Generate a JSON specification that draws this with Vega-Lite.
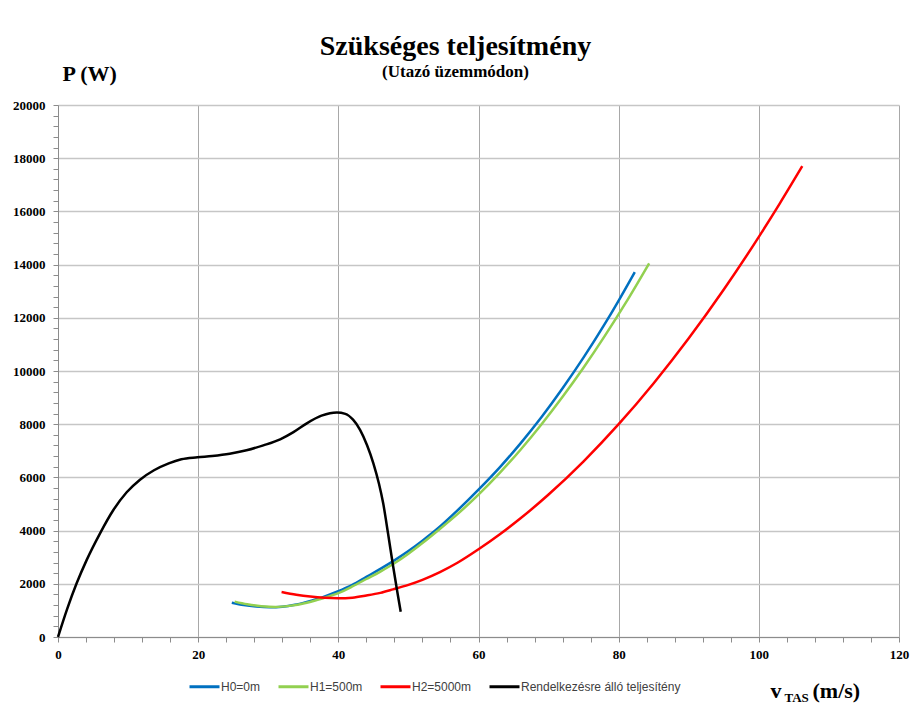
{
  "$schema": "https://vega.github.io/schema/vega-lite/v6.json",
  "width": 841,
  "height": 532,
  "autosize": {"type": "none"},
  "padding": {"left": 58, "top": 105, "right": 11, "bottom": 71},
  "background": "white",
  "config": {"view": {"stroke": null}, "font": "Liberation Serif"},
  "title": {
    "text": "Szükséges teljesítmény",
    "subtitle": "(Utazó üzemmódon)",
    "anchor": "middle",
    "frame": "group",
    "dx": -23,
    "dy": 18,
    "font": "Liberation Serif",
    "fontSize": 28,
    "fontWeight": "bold",
    "color": "black",
    "subtitleFont": "Liberation Serif",
    "subtitleFontSize": 17,
    "subtitleFontWeight": "bold",
    "subtitleColor": "black",
    "subtitlePadding": 3,
    "offset": 0
  },
  "data": {
    "values": [
      {"s": "H0=0m", "v": 24.8, "P": 1290},
      {"s": "H0=0m", "v": 26.5, "P": 1200},
      {"s": "H0=0m", "v": 28.3, "P": 1145},
      {"s": "H0=0m", "v": 30.2, "P": 1120},
      {"s": "H0=0m", "v": 32, "P": 1140},
      {"s": "H0=0m", "v": 33.8, "P": 1210},
      {"s": "H0=0m", "v": 35.5, "P": 1320},
      {"s": "H0=0m", "v": 37.7, "P": 1490},
      {"s": "H0=0m", "v": 39.8, "P": 1700},
      {"s": "H0=0m", "v": 42, "P": 1960},
      {"s": "H0=0m", "v": 44, "P": 2260},
      {"s": "H0=0m", "v": 46, "P": 2560},
      {"s": "H0=0m", "v": 48, "P": 2880},
      {"s": "H0=0m", "v": 50, "P": 3230},
      {"s": "H0=0m", "v": 52, "P": 3620},
      {"s": "H0=0m", "v": 54, "P": 4040},
      {"s": "H0=0m", "v": 57, "P": 4760},
      {"s": "H0=0m", "v": 60, "P": 5540},
      {"s": "H0=0m", "v": 63, "P": 6370},
      {"s": "H0=0m", "v": 66, "P": 7280},
      {"s": "H0=0m", "v": 69, "P": 8270},
      {"s": "H0=0m", "v": 72, "P": 9350},
      {"s": "H0=0m", "v": 75, "P": 10510},
      {"s": "H0=0m", "v": 78, "P": 11760},
      {"s": "H0=0m", "v": 80, "P": 12650},
      {"s": "H0=0m", "v": 82.3, "P": 13720},
      {"s": "H1=500m", "v": 25.2, "P": 1330},
      {"s": "H1=500m", "v": 27, "P": 1230},
      {"s": "H1=500m", "v": 29, "P": 1160},
      {"s": "H1=500m", "v": 31, "P": 1130},
      {"s": "H1=500m", "v": 33, "P": 1170},
      {"s": "H1=500m", "v": 35.5, "P": 1290},
      {"s": "H1=500m", "v": 37.7, "P": 1450},
      {"s": "H1=500m", "v": 40, "P": 1650},
      {"s": "H1=500m", "v": 42, "P": 1900},
      {"s": "H1=500m", "v": 44, "P": 2180},
      {"s": "H1=500m", "v": 46, "P": 2460},
      {"s": "H1=500m", "v": 48, "P": 2770},
      {"s": "H1=500m", "v": 50, "P": 3130},
      {"s": "H1=500m", "v": 52, "P": 3530},
      {"s": "H1=500m", "v": 54.2, "P": 4000},
      {"s": "H1=500m", "v": 57, "P": 4620},
      {"s": "H1=500m", "v": 60, "P": 5350},
      {"s": "H1=500m", "v": 63, "P": 6160},
      {"s": "H1=500m", "v": 66, "P": 7040},
      {"s": "H1=500m", "v": 69, "P": 8000},
      {"s": "H1=500m", "v": 72, "P": 9030},
      {"s": "H1=500m", "v": 75, "P": 10130},
      {"s": "H1=500m", "v": 78, "P": 11310},
      {"s": "H1=500m", "v": 81, "P": 12560},
      {"s": "H1=500m", "v": 84.35, "P": 14050},
      {"s": "H2=5000m", "v": 31.9, "P": 1692},
      {"s": "H2=5000m", "v": 34, "P": 1590},
      {"s": "H2=5000m", "v": 36, "P": 1520},
      {"s": "H2=5000m", "v": 38, "P": 1475},
      {"s": "H2=5000m", "v": 40, "P": 1458},
      {"s": "H2=5000m", "v": 42, "P": 1480},
      {"s": "H2=5000m", "v": 44, "P": 1560},
      {"s": "H2=5000m", "v": 46, "P": 1660},
      {"s": "H2=5000m", "v": 47.8, "P": 1790},
      {"s": "H2=5000m", "v": 50, "P": 1960},
      {"s": "H2=5000m", "v": 52, "P": 2150},
      {"s": "H2=5000m", "v": 54.5, "P": 2440},
      {"s": "H2=5000m", "v": 57, "P": 2790},
      {"s": "H2=5000m", "v": 60, "P": 3297},
      {"s": "H2=5000m", "v": 63, "P": 3853},
      {"s": "H2=5000m", "v": 66, "P": 4462},
      {"s": "H2=5000m", "v": 70, "P": 5356},
      {"s": "H2=5000m", "v": 75, "P": 6605},
      {"s": "H2=5000m", "v": 80, "P": 8000},
      {"s": "H2=5000m", "v": 85, "P": 9542},
      {"s": "H2=5000m", "v": 90, "P": 11230},
      {"s": "H2=5000m", "v": 95, "P": 13064},
      {"s": "H2=5000m", "v": 100, "P": 15043},
      {"s": "H2=5000m", "v": 103, "P": 16302},
      {"s": "H2=5000m", "v": 106.2, "P": 17700},
      {"s": "Rendelkezésre álló teljesítény", "v": 0, "P": 0},
      {"s": "Rendelkezésre álló teljesítény", "v": 1.3, "P": 1050},
      {"s": "Rendelkezésre álló teljesítény", "v": 2.66, "P": 2018},
      {"s": "Rendelkezésre álló teljesítény", "v": 4.1, "P": 2900},
      {"s": "Rendelkezésre álló teljesítény", "v": 6, "P": 3898},
      {"s": "Rendelkezésre álló teljesítény", "v": 7.9, "P": 4774},
      {"s": "Rendelkezésre álló teljesítény", "v": 9.8, "P": 5440},
      {"s": "Rendelkezésre álló teljesítény", "v": 11.7, "P": 5915},
      {"s": "Rendelkezésre álló teljesítény", "v": 13.7, "P": 6270},
      {"s": "Rendelkezésre álló teljesítény", "v": 15.8, "P": 6530},
      {"s": "Rendelkezésre álló teljesítény", "v": 17.6, "P": 6683},
      {"s": "Rendelkezésre álló teljesítény", "v": 19.9, "P": 6756},
      {"s": "Rendelkezésre álló teljesítény", "v": 22, "P": 6805},
      {"s": "Rendelkezésre álló teljesítény", "v": 24.5, "P": 6890},
      {"s": "Rendelkezésre álló teljesítény", "v": 26.9, "P": 7020},
      {"s": "Rendelkezésre álló teljesítény", "v": 29.3, "P": 7205},
      {"s": "Rendelkezésre álló teljesítény", "v": 31.7, "P": 7430},
      {"s": "Rendelkezésre álló teljesítény", "v": 33.6, "P": 7700},
      {"s": "Rendelkezésre álló teljesítény", "v": 35.5, "P": 8033},
      {"s": "Rendelkezésre álló teljesítény", "v": 37.6, "P": 8320},
      {"s": "Rendelkezésre álló teljesítény", "v": 38.8, "P": 8415},
      {"s": "Rendelkezésre álló teljesítény", "v": 39.8, "P": 8440},
      {"s": "Rendelkezésre álló teljesítény", "v": 41, "P": 8390},
      {"s": "Rendelkezésre álló teljesítény", "v": 42.1, "P": 8170},
      {"s": "Rendelkezésre álló teljesítény", "v": 43.1, "P": 7790},
      {"s": "Rendelkezésre álló teljesítény", "v": 44.1, "P": 7210},
      {"s": "Rendelkezésre álló teljesítény", "v": 45, "P": 6530},
      {"s": "Rendelkezésre álló teljesítény", "v": 45.8, "P": 5760},
      {"s": "Rendelkezésre álló teljesítény", "v": 46.4, "P": 5026},
      {"s": "Rendelkezésre álló teljesítény", "v": 47.1, "P": 3880},
      {"s": "Rendelkezésre álló teljesítény", "v": 47.8, "P": 2690},
      {"s": "Rendelkezésre álló teljesítény", "v": 48.4, "P": 1720},
      {"s": "Rendelkezésre álló teljesítény", "v": 48.9, "P": 951}
    ]
  },
  "encoding": {
    "y": {
      "field": "P",
      "type": "quantitative",
      "scale": {"domain": [0, 20000], "nice": false},
      "axis": {
        "values": [0,400,800,1200,1600,2000,2400,2800,3200,3600,4000,4400,4800,5200,5600,6000,6400,6800,7200,7600,8000,8400,8800,9200,9600,10000,10400,10800,11200,11600,12000,12400,12800,13200,13600,14000,14400,14800,15200,15600,16000,16400,16800,17200,17600,18000,18400,18800,19200,19600,20000],
        "format": "d",
        "labelExpr": "datum.value % 2000 === 0 ? datum.label : ''",
        "labelOverlap": false,
        "labelFlush": false,
        "labelFont": "Liberation Serif",
        "labelFontWeight": "bold",
        "labelFontSize": 13,
        "labelColor": "black",
        "labelPadding": 8,
        "tickSize": 5,
        "tickColor": "#8c8c8c",
        "domainColor": "#8c8c8c",
        "gridColor": "#c6c6c6",
        "gridWidth": 1.5,
        "gridOpacity": {"condition": {"test": "datum.value % 2000 !== 0", "value": 0}, "value": 1},
        "title": "P (W)",
        "titleAngle": 0,
        "titleAlign": "left",
        "titleBaseline": "alphabetic",
        "titleX": 4,
        "titleY": -25,
        "titleFont": "Liberation Serif",
        "titleFontSize": 22,
        "titleFontWeight": "bold",
        "titleColor": "black"
      }
    }
  },
  "layer": [
    {
      "mark": {"type": "line", "interpolate": "monotone", "strokeWidth": 2.5},
      "encoding": {
        "x": {
          "field": "v",
          "type": "quantitative",
          "scale": {"domain": [0, 120], "nice": false},
          "axis": {
            "orient": "bottom",
            "values": [0,4,8,12,16,20,24,28,32,36,40,44,48,52,56,60,64,68,72,76,80,84,88,92,96,100,104,108,112,116,120],
            "labelExpr": "datum.value % 20 === 0 ? datum.label : ''",
            "labelOverlap": false,
            "labelFlush": false,
            "labelFont": "Liberation Serif",
            "labelFontWeight": "bold",
            "labelFontSize": 13,
            "labelColor": "black",
            "labelPadding": 6,
            "tickSize": 5,
            "tickColor": "#8c8c8c",
            "domainColor": "#8c8c8c",
            "gridColor": "#a8a8a8",
            "gridWidth": 1,
            "gridOpacity": {"condition": {"test": "datum.value % 20 !== 0", "value": 0}, "value": 1},
            "title": "v",
            "titleX": 712,
            "titleY": 60,
            "titleAlign": "left",
            "titleBaseline": "alphabetic",
            "titleFont": "Liberation Serif",
            "titleFontSize": 22,
            "titleFontWeight": "bold",
            "titleColor": "black"
          }
        },
        "color": {
          "field": "s",
          "type": "nominal",
          "scale": {
            "domain": ["H0=0m", "H1=500m", "H2=5000m", "Rendelkezésre álló teljesítény"],
            "range": ["#0070C0", "#92D050", "#FF0000", "#000000"]
          },
          "legend": {
            "title": null,
            "orient": "none",
            "legendX": 130,
            "legendY": 565,
            "direction": "horizontal",
            "symbolType": "stroke",
            "symbolSize": 900,
            "symbolStrokeWidth": 3,
            "labelFont": "Liberation Sans",
            "labelFontSize": 12,
            "labelColor": "#404040",
            "labelOffset": 0,
            "columnPadding": 11
          }
        }
      }
    },
    {
      "mark": {"type": "line", "opacity": 0},
      "encoding": {
        "detail": {"field": "s"},
        "x": {
          "field": "v",
          "type": "quantitative",
          "scale": {"domain": [0, 120], "nice": false},
          "axis": {
            "orient": "bottom",
            "domain": false,
            "ticks": false,
            "labels": false,
            "grid": false,
            "title": "TAS",
            "titleX": 726,
            "titleY": 64,
            "titleAlign": "left",
            "titleBaseline": "alphabetic",
            "titleFont": "Liberation Serif",
            "titleFontSize": 13,
            "titleFontWeight": "bold",
            "titleColor": "black"
          }
        }
      }
    },
    {
      "mark": {"type": "line", "opacity": 0},
      "encoding": {
        "detail": {"field": "s"},
        "x": {
          "field": "v",
          "type": "quantitative",
          "scale": {"domain": [0, 120], "nice": false},
          "axis": {
            "orient": "bottom",
            "domain": false,
            "ticks": false,
            "labels": false,
            "grid": false,
            "title": "(m/s)",
            "titleX": 754,
            "titleY": 60,
            "titleAlign": "left",
            "titleBaseline": "alphabetic",
            "titleFont": "Liberation Serif",
            "titleFontSize": 22,
            "titleFontWeight": "bold",
            "titleColor": "black"
          }
        }
      }
    }
  ],
  "resolve": {"axis": {"x": "independent"}}
}
